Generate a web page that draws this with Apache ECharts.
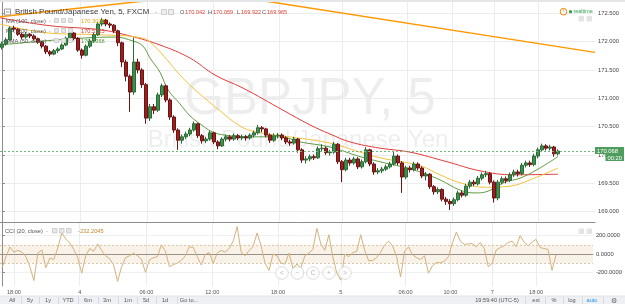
<!DOCTYPE html>
<html>
<head>
<meta charset="utf-8">
<script src="https://cdn.jsdelivr.net/npm/echarts@6/dist/echarts.min.js"></script>
<style>
  html, body { margin: 0; padding: 0; background: #fff; }
  #chart { width: 625px; height: 304px; }
</style>
</head>
<body>
<div id="chart"></div>
<script>
// GBPJPY 5 min, one row per bar: [open, close, low, high]
const bars = [
  [171.90,171.96,171.86,172.00],[171.96,172.03,171.93,172.07],[172.03,172.24,172.01,172.27],[172.24,172.22,172.18,172.28],
  [172.22,172.13,172.10,172.24],[172.13,172.08,172.04,172.16],[172.08,172.13,172.05,172.17],[172.13,172.10,172.06,172.15],
  [172.10,172.05,172.02,172.13],[172.05,171.99,171.96,172.07],[171.99,171.92,171.88,172.01],[171.92,171.82,171.78,171.94],
  [171.82,171.78,171.74,171.85],[171.78,171.84,171.76,171.87],[171.84,171.87,171.80,171.90],[171.87,171.94,171.85,171.97],
  [171.94,172.06,171.92,172.09],[172.06,172.15,172.03,172.19],[172.15,172.06,172.02,172.17],[172.06,171.85,171.82,172.08],
  [171.85,171.76,171.70,171.88],[171.76,171.92,171.74,171.95],[171.92,172.01,171.89,172.05],[172.01,172.12,171.98,172.16],
  [172.12,172.31,172.10,172.35],[172.31,172.38,172.27,172.42],[172.38,172.31,172.27,172.40],[172.31,172.29,172.24,172.34],
  [172.29,172.19,172.15,172.31],[172.19,171.98,171.92,172.21],[171.98,171.64,171.55,172.00],[171.64,171.39,171.30,171.68],
  [171.39,171.11,170.76,171.42],[171.11,171.64,171.06,172.07],[171.64,171.50,171.44,171.70],[171.50,171.24,171.18,171.53],
  [171.24,170.65,170.55,171.27],[170.65,170.85,170.60,170.90],[170.85,170.79,170.72,170.90],[170.79,171.06,170.76,171.10],
  [171.06,171.22,171.02,171.26],[171.22,170.97,170.93,171.24],[170.97,170.67,170.62,171.00],[170.67,170.44,170.39,170.70],
  [170.44,170.26,170.09,170.47],[170.26,170.32,170.20,170.36],[170.32,170.37,170.28,170.41],[170.37,170.44,170.33,170.48],
  [170.44,170.55,170.41,170.59],[170.55,170.34,170.30,170.57],[170.34,170.25,170.20,170.37],[170.25,170.28,170.21,170.32],
  [170.28,170.39,170.25,170.43],[170.39,170.23,170.19,170.41],[170.23,170.16,170.10,170.26],[170.16,170.28,170.14,170.31],
  [170.28,170.32,170.24,170.36],[170.32,170.28,170.24,170.35],[170.28,170.34,170.25,170.38],[170.34,170.30,170.26,170.37],
  [170.30,170.32,170.26,170.36],[170.32,170.30,170.25,170.35],[170.30,170.35,170.27,170.38],[170.35,170.39,170.31,170.43],
  [170.39,170.48,170.36,170.53],[170.48,170.46,170.40,170.51],[170.46,170.35,170.31,170.48],[170.35,170.26,170.21,170.38],
  [170.26,170.34,170.23,170.38],[170.34,170.35,170.29,170.39],[170.35,170.30,170.26,170.38],[170.30,170.23,170.19,170.33],
  [170.23,170.21,170.16,170.27],[170.21,170.28,170.18,170.32],[170.28,170.09,170.04,170.30],[170.09,169.91,169.86,170.12],
  [169.91,169.93,169.85,169.98],[169.93,169.97,169.89,170.01],[169.97,169.95,169.91,170.01],[169.95,170.11,169.93,170.15],
  [170.11,170.12,170.06,170.19],[170.12,170.04,170.00,170.15],[170.04,170.05,169.99,170.09],[170.05,170.19,170.02,170.23],
  [170.19,169.88,169.84,170.21],[169.88,169.74,169.52,169.91],[169.74,169.91,169.71,169.95],[169.91,169.86,169.81,169.95],
  [169.86,169.93,169.83,169.97],[169.93,169.79,169.75,169.96],[169.79,169.88,169.76,169.92],[169.88,170.09,169.85,170.14],
  [170.09,169.84,169.80,170.11],[169.84,169.70,169.65,169.87],[169.70,169.72,169.66,169.77],[169.72,169.75,169.68,169.79],
  [169.75,169.79,169.72,169.83],[169.79,169.84,169.76,169.88],[169.84,169.98,169.81,170.06],[169.98,169.86,169.82,170.01],
  [169.86,169.61,169.33,169.89],[169.61,169.77,169.57,169.81],[169.77,169.74,169.69,169.81],[169.74,169.84,169.71,169.88],
  [169.84,169.77,169.73,169.87],[169.77,169.63,169.59,169.80],[169.63,169.66,169.55,169.70],[169.66,169.44,169.40,169.68],
  [169.44,169.35,169.30,169.47],[169.35,169.39,169.31,169.43],[169.39,169.22,169.18,169.41],[169.22,169.18,169.12,169.26],
  [169.18,169.14,169.03,169.22],[169.14,169.21,169.10,169.25],[169.21,169.33,169.18,169.37],[169.33,169.29,169.25,169.37],
  [169.29,169.45,169.26,169.49],[169.45,169.52,169.41,169.56],[169.52,169.49,169.45,169.56],[169.49,169.59,169.46,169.63],
  [169.59,169.65,169.55,169.69],[169.65,169.67,169.61,169.72],[169.67,169.52,169.48,169.70],[169.52,169.24,169.16,169.55],
  [169.24,169.52,169.20,169.56],[169.52,169.58,169.48,169.62],[169.58,169.55,169.50,169.62],[169.55,169.65,169.52,169.69],
  [169.65,169.70,169.61,169.74],[169.70,169.67,169.62,169.74],[169.67,169.82,169.64,169.86],[169.82,169.86,169.78,169.90],
  [169.86,169.83,169.79,169.90],[169.83,169.98,169.80,170.02],[169.98,170.09,169.94,170.13],[170.09,170.16,170.05,170.20],
  [170.16,170.12,170.08,170.19],[170.12,170.14,170.08,170.18],[170.14,170.02,169.97,170.16],[170.02,170.068,169.99,170.10]
];

// moving averages: [bar index, price]
const ma100 = [[-0.5,172.31],[12,172.15],[24.5,172.12],[35.25,172.06],[38.25,171.91],[41.25,171.68],[44.5,171.41],
  [48.25,171.15],[54.5,170.78],[59.5,170.51],[63.25,170.41],[70.75,170.33],[82,170.21],[89.5,170.05],[94.5,169.95],
  [104.5,169.81],[109.5,169.65],[114.5,169.51],[120.75,169.43],[127,169.45],[132,169.56],[139,169.77]];
const ma200 = [[-0.5,172.42],[12,172.28],[24.5,172.21],[32,172.10],[39.5,171.94],[47,171.71],[53.25,171.41],
  [60.25,171.18],[70.25,170.79],[77,170.53],[82,170.37],[87,170.23],[94.5,170.12],[102,170.05],[111.25,169.88],
  [119.5,169.72],[127.75,169.65],[139,169.66]];
const ema50 = [[-0.5,171.94],[13.75,172.03],[28.25,172.08],[32.75,172.01],[35.25,171.92],[37,171.71],[39.5,171.46],
  [41.5,171.15],[44.5,170.90],[47,170.69],[49.5,170.55],[52.5,170.41],[55.75,170.35],[62,170.32],[69.5,170.32],
  [74.5,170.23],[82,170.14],[89.5,169.97],[94.5,169.88],[102.75,169.74],[109.5,169.56],[114.5,169.38],[118.25,169.33],
  [121.5,169.36],[125.75,169.52],[129.5,169.59],[133.75,169.74],[139,169.97]];
const trendA = [[-0.5,172.44],[40,172.75]];
const trendB = [[59,172.79],[148.25,171.81]];

// CCI (20, close), one value per bar
const cci = [-150,-30,77,20,40,20,-30,-140,-290,10,44,-150,-45,-60,65,230,165,120,50,-40,
  -210,-20,60,30,110,40,-20,-50,-120,-300,-140,-40,-20,10,-20,-60,-200,-65,-40,-30,
  100,30,-140,-115,-100,-70,-20,80,70,-30,-120,-5,15,-100,10,40,20,60,140,300,
  20,-20,40,80,230,90,-100,-180,0,-20,-100,-110,10,-155,-110,-150,-20,10,50,280,
  110,40,210,-30,-210,-285,0,-30,15,30,210,40,-75,-70,-40,20,100,140,90,-30,
  -250,30,77,-10,-40,-60,-20,-210,-130,-95,-95,-80,-30,120,240,140,105,110,115,77,
  125,60,-140,-100,44,70,90,125,140,80,200,130,90,130,160,70,60,50,-180,-10];

const timePos = [3, 19.5, 36.25, 52.75, 69.25, 85, 101.25, 112.5, 123, 134];
const timeLabels = ['18:00', '4', '06:00', '12:00', '18:00', '5', '06:00', '10:00', '7', '18:00'];
const priceTicks = [169, 169.5, 170, 170.5, 171, 171.5, 172, 172.5];
const cciTicks = [-200, 0, 200];

const FONT = '"Liberation Sans", Arial, sans-serif';
const lastClose = bars[bars.length - 1][1];

function txt(x, y, s, size, color, align) {
  return {
    type: 'text', x: x, y: y, z: 50, silent: true,
    style: { text: s, fill: color, fontSize: size, fontFamily: FONT, verticalAlign: 'middle', align: align || 'left' }
  };
}
function box(x, y, w, h, fill, stroke) {
  return { type: 'rect', z: 50, silent: true, shape: { x: x, y: y, width: w, height: h },
    style: { fill: fill, stroke: stroke || null, lineWidth: 1 } };
}
function vline(x, y1, y2, color) {
  return { type: 'line', z: 51, silent: true, shape: { x1: x, y1: y1, x2: x, y2: y2 }, style: { stroke: color, lineWidth: 1 } };
}

const chart = echarts.init(document.getElementById('chart'));

const g = [];
// watermark
const wm1 = txt(310, 100, 'GBPJPY, 5', 51, 'rgba(0,0,0,0.07)', 'center');
const wm2 = txt(298, 140, 'British Pound/Japanese Yen', 24, 'rgba(0,0,0,0.07)', 'center');
wm1.z = 0; wm2.z = 0;
g.push(wm1, wm2);
// top strip
g.push(box(0, 0, 625, 2, '#e4e7ea'));
// header
g.push(box(4.5, 9, 6, 6, '#fff', '#9a9a9a'));
g.push({ type: 'line', z: 51, silent: true, shape: { x1: 6, y1: 12, x2: 9.5, y2: 12 }, style: { stroke: '#9a9a9a', lineWidth: 1 } });
g.push(txt(15, 12.3, 'British Pound/Japanese Yen, 5, FXCM', 7.9, '#3a3a3a'));
g.push(txt(155, 12.3, '-', 6, '#999'));
g.push(box(161.5, 9.5, 5, 5, '#eee', '#ccc'));
g.push(box(168.5, 9.5, 5, 5, '#eee', '#ccc'));
const ohlcText = [['O', 180], ['170.042', 185], ['H', 208], ['170.059', 213], ['L', 237], ['169.922', 241], ['C', 262], ['169.965', 267]];
ohlcText.forEach(function (t, k) {
  g.push(txt(t[1], 12.3, t[0], 5.6, k % 2 ? '#e0453a' : '#555'));
});
// indicator legends
const legends = [
  ['MA (100, close)', '170.3025', '#e6a817', 21],
  ['MA (200, close)', '170.5125', '#e03c3c', 31],
  ['EMA (50, close)', '170.2368', '#5e9a3f', 41]
];
legends.forEach(function (l) {
  g.push(txt(6, l[3], l[0], 5.7, '#555'));
  g.push(txt(49, l[3], '-', 5.5, '#999'));
  g.push(box(54.5, l[3] - 2.5, 4, 4, '#e6e6e6', '#cfcfcf'));
  g.push(box(61.5, l[3] - 2.5, 4, 4, '#e6e6e6', '#cfcfcf'));
  g.push(box(68.5, l[3] - 2.5, 4, 4, '#e6e6e6', '#cfcfcf'));
  g.push(txt(81, l[3], l[1], 5.7, l[2]));
});
// realtime indicator
g.push({ type: 'circle', z: 50, silent: true, shape: { cx: 563.5, cy: 11.7, r: 3.3 }, style: { fill: '#fff', stroke: '#f57c00', lineWidth: 1 } });
g.push(txt(563.5, 11.9, '!', 5, '#f57c00', 'center'));
g.push({ type: 'circle', z: 50, silent: true, shape: { cx: 570.5, cy: 11.7, r: 1.6 }, style: { fill: '#2e9e4f' } });
g.push(txt(573.5, 11.8, 'realtime', 5.4, '#2e9e4f'));
[16, 228.5].forEach(function (yy) {
  g.push(box(578.5, yy, 5.5, 5.5, '#e4e4e4'));
  g.push(box(586.5, yy, 5.5, 5.5, '#e4e4e4'));
});
// CCI legend
g.push(txt(5, 231, 'CCI (20, close)', 5.7, '#555'));
g.push(txt(46, 231, '-', 5.5, '#999'));
[52.5, 59.5, 66.5].forEach(function (xx) { g.push(box(xx, 228.5, 4.5, 4.5, '#e6e6e6', '#cfcfcf')); });
g.push(txt(78, 231, '-232.2045', 5.7, '#c08a2e'));
// navigation buttons
[['<', 282], ['\u2212', 297.5], ['C', 313], ['+', 329], ['>', 345]].forEach(function (b) {
  g.push({ type: 'circle', z: 50, silent: true, shape: { cx: b[1], cy: 273, r: 6.3 }, style: { fill: 'rgba(255,255,255,0.85)', stroke: '#dcdcdc', lineWidth: 1 } });
  const t = txt(b[1], 273.3, b[0], 6.5, '#b5b5b5', 'center');
  t.z = 51;
  g.push(t);
});
// bottom toolbar
g.push(box(0, 296, 625, 8, '#eef0f3'));
g.push({ type: 'line', z: 50, silent: true, shape: { x1: 0, y1: 296, x2: 625, y2: 296 }, style: { stroke: '#dfe2e6', lineWidth: 1 } });
const leftBtns = [['All', 12], ['5y', 30], ['1y', 48], ['YTD', 68], ['6m', 88], ['3m', 107], ['1m', 128], ['5d', 146], ['1d', 165], ['Go to...', 189]];
const rightBtns = [['19:59:40 (UTC-5)', 497, '#555'], ['ext', 536, '#555'], ['%', 554, '#555'], ['log', 572, '#555'], ['auto', 592, '#2196f3'], ['\u2699', 614, '#666']];
leftBtns.forEach(function (b, k) {
  const t = txt(b[1], 300.6, b[0], 5.6, '#555', 'center');
  t.z = 51;
  g.push(t);
  if (k < leftBtns.length - 1) {
    g.push(vline(Math.round((b[1] + leftBtns[k + 1][1]) / 2) + 0.5, 297, 304, '#d6d9dd'));
  }
});
rightBtns.forEach(function (b, k) {
  const t = txt(b[1], 300.6, b[0], k === 5 ? 7 : 5.6, b[2], 'center');
  t.z = 51;
  g.push(t);
  if (k > 0) {
    g.push(vline(Math.round((b[1] + rightBtns[k - 1][1]) / 2 + (k === 1 ? 8 : 0)) + 0.5, 297, 304, '#d6d9dd'));
  }
});

function lineSeries(data, color, width, smooth) {
  return {
    type: 'line', xAxisIndex: 0, yAxisIndex: 0, data: data, smooth: smooth, showSymbol: false,
    lineStyle: { color: color, width: width }, silent: true, z: 3
  };
}

const axisCommon = {
  type: 'value', min: -0.5, max: 148.25,
  axisLine: { show: true, lineStyle: { color: '#8c8c8c', width: 1 } },
  axisTick: { show: false, customValues: timePos },
  splitLine: { show: true, lineStyle: { color: '#ececec', width: 1 } }
};

chart.setOption({
  animation: false,
  backgroundColor: '#fff',
  textStyle: { fontFamily: FONT },
  grid: [
    { left: 0, right: 30, top: 2, height: 220 },
    { left: 0, right: 30, top: 223, height: 63 }
  ],
  xAxis: [
    Object.assign({ gridIndex: 0, axisLabel: { show: false } }, axisCommon),
    Object.assign({ gridIndex: 1, axisLabel: {
      show: true, customValues: timePos, fontSize: 5.6, color: '#555', margin: 3,
      formatter: function (v) { const k = timePos.indexOf(v); return k < 0 ? '' : timeLabels[k]; }
    } }, axisCommon)
  ],
  yAxis: [
    {
      type: 'value', gridIndex: 0, position: 'right', min: 168.817, max: 172.699, scale: true,
      axisLine: { show: true, lineStyle: { color: '#8c8c8c' } },
      axisTick: { show: true, length: 3, customValues: priceTicks, lineStyle: { color: '#8c8c8c' } },
      axisLabel: { customValues: priceTicks, fontSize: 5.8, color: '#444', margin: 3,
        formatter: function (v) { return v.toFixed(3); } },
      splitLine: { show: true, lineStyle: { color: '#ececec' } }
    },
    {
      type: 'value', gridIndex: 1, position: 'right', min: -350, max: 339,
      axisLine: { show: true, lineStyle: { color: '#8c8c8c' } },
      axisTick: { show: true, length: 3, customValues: cciTicks, lineStyle: { color: '#8c8c8c' } },
      axisLabel: { customValues: cciTicks, fontSize: 5.8, color: '#444', margin: 3,
        formatter: function (v) { return v.toFixed(4); } },
      splitLine: { show: true, lineStyle: { color: '#f0f0f0' } }
    }
  ],
  series: [
    {
      type: 'candlestick', xAxisIndex: 0, yAxisIndex: 0, z: 4, silent: true,
      data: bars.map(function (b, i) { return [i].concat(b); }),
      barWidth: 2.6,
      itemStyle: { color: '#3f8f4c', color0: '#9e1f1f', borderColor: '#2c6a37', borderColor0: '#6a1414', borderWidth: 1 },
      markLine: {
        silent: true, symbol: ['none', 'none'], animation: false,
        lineStyle: { color: '#6fb57e', type: [2, 2], width: 1 },
        data: [{ yAxis: lastClose }],
        label: {
          show: true, position: 'end', distance: 0, offset: [0, 3],
          formatter: '{p|' + lastClose.toFixed(3) + '}\n{t|00:20}',
          rich: {
            p: { backgroundColor: '#4f9d5d', color: '#fff', fontSize: 5.8, padding: [1, 2, 0, 2], width: 25 },
            t: { backgroundColor: '#4f9d5d', color: '#fff', fontSize: 5.8, padding: [1, 2, 0, 2], align: 'right' }
          }
        }
      }
    },
    lineSeries(ma200, '#e23b3b', 1, 0.4),
    lineSeries(ma100, '#f3c13a', 1, 0.4),
    lineSeries(ema50, '#5f9c43', 1, 0.4),
    lineSeries(trendA, '#ff9800', 1.5, false),
    lineSeries(trendB, '#ff9800', 1.5, false),
    {
      type: 'line', xAxisIndex: 1, yAxisIndex: 1, silent: true, showSymbol: false,
      data: cci.map(function (v, i) { return [i, v]; }),
      lineStyle: { color: '#d5b17c', width: 1 },
      markArea: {
        silent: true, itemStyle: { color: 'rgba(214,175,120,0.16)' },
        data: [[{ yAxis: 100 }, { yAxis: -100 }]]
      },
      markLine: {
        silent: true, symbol: ['none', 'none'], label: { show: false },
        lineStyle: { color: '#d9c8aa', type: [2, 2], width: 1 },
        data: [{ yAxis: 100 }, { yAxis: -100 }]
      }
    }
  ],
  graphic: { elements: g }
});
</script>
</body>
</html>
